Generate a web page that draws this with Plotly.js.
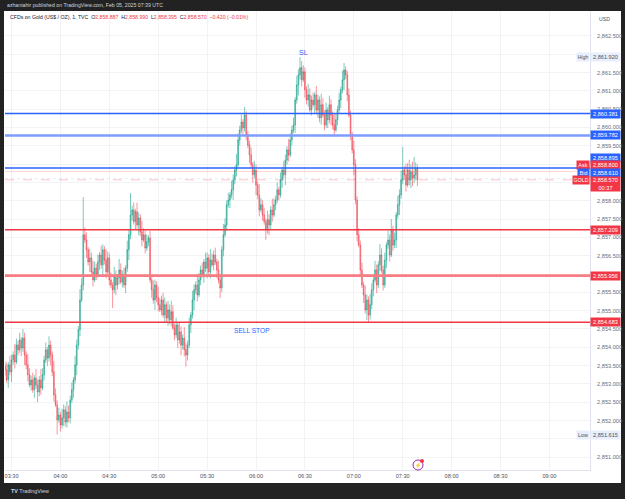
<!DOCTYPE html>
<html><head><meta charset="utf-8">
<script src="https://cdn.plot.ly/plotly-3.0.1.min.js"></script>
<style>html,body{margin:0;padding:0;background:#222222;}#chart{width:625px;height:499px;}</style>
</head><body><div id="chart"></div>
<script>
// ---------- DATA ----------
const sessionDate = '2025-02-05';
const firstBarHour = 3, firstBarMinute = 26;   // 1-minute bars, TVC:GOLD

const openP = [2853.50, 2853.38, 2853.11, 2853.52, 2853.33, 2853.65, 2853.79, 2853.60, 2854.06, 2853.93,
 2854.20, 2853.98, 2854.25, 2853.79, 2853.52, 2853.25, 2852.97, 2853.11, 2852.84, 2853.16,
 2852.97, 2852.78, 2853.11, 2852.89, 2853.25, 2853.65, 2853.93, 2853.71, 2854.06, 2853.79,
 2853.33, 2852.70, 2852.43, 2852.02, 2852.15, 2851.88, 2852.07, 2852.29, 2851.96, 2852.23,
 2852.07, 2852.56, 2852.84, 2853.11, 2853.52, 2854.06, 2854.48, 2855.29, 2855.70, 2857.07,
 2856.93, 2856.66, 2856.33, 2856.44, 2856.06, 2855.84, 2856.16, 2855.98, 2856.33, 2856.52,
 2856.25, 2856.66, 2856.38, 2856.06, 2856.44, 2855.84, 2855.70, 2855.57, 2855.95, 2855.70,
 2855.90, 2856.11, 2855.78, 2855.98, 2855.70, 2856.16, 2856.66, 2857.07, 2857.61, 2857.75,
 2857.43, 2857.70, 2857.34, 2857.53, 2857.15, 2856.93, 2857.07, 2856.71, 2856.88, 2856.98,
 2855.84, 2855.57, 2855.29, 2855.70, 2855.35, 2855.16, 2855.02, 2855.29, 2854.88, 2855.16,
 2854.80, 2855.02, 2854.75, 2854.97, 2854.53, 2854.34, 2854.61, 2854.20, 2854.42, 2854.06,
 2854.25, 2853.93, 2853.79, 2854.06, 2854.61, 2854.88, 2855.29, 2855.57, 2855.70, 2855.43,
 2855.84, 2856.11, 2855.98, 2856.33, 2856.16, 2856.44, 2856.06, 2856.38, 2856.25, 2856.52,
 2856.33, 2856.11, 2855.84, 2855.62, 2856.66, 2857.07, 2857.34, 2857.89, 2858.02, 2858.16,
 2858.30, 2858.57, 2858.84, 2858.98, 2859.66, 2859.93, 2860.15, 2859.99, 2860.34, 2859.80,
 2859.52, 2859.25, 2858.98, 2858.71, 2858.84, 2858.43, 2858.16, 2857.75, 2857.89, 2857.61,
 2857.43, 2857.20, 2857.48, 2857.34, 2857.75, 2857.61, 2857.89, 2858.02, 2858.30, 2858.16,
 2858.57, 2858.84, 2858.71, 2859.11, 2859.39, 2859.25, 2859.66, 2859.93, 2860.07, 2860.75,
 2861.16, 2861.44, 2861.63, 2861.30, 2861.52, 2861.03, 2860.75, 2860.89, 2860.48, 2860.75,
 2860.62, 2860.89, 2860.48, 2860.75, 2860.26, 2860.62, 2860.34, 2860.07, 2860.48, 2860.21,
 2860.62, 2860.34, 2860.07, 2859.93, 2860.21, 2860.48, 2860.75, 2861.03, 2861.30, 2861.57,
 2861.44, 2860.89, 2860.34, 2859.80, 2859.39, 2858.98, 2858.02, 2857.07, 2856.79, 2856.11,
 2855.70, 2855.43, 2855.02, 2855.29, 2854.88, 2855.16, 2855.57, 2855.84, 2856.11, 2855.70,
 2856.25, 2856.52, 2856.11, 2855.70, 2856.38, 2856.79, 2856.93, 2856.52, 2857.20, 2856.79,
 2856.93, 2857.61, 2857.89, 2858.16, 2858.57, 2858.84, 2858.71, 2858.43, 2858.84, 2858.57,
 2858.79, 2858.62, 2858.70, 2858.887];

const highP = [2853.62, 2853.58, 2853.60, 2853.77, 2853.80, 2853.89, 2854.09, 2854.24, 2854.18, 2854.40,
 2854.28, 2854.50, 2854.40, 2853.89, 2853.82, 2853.43, 2853.23, 2853.31, 2853.24, 2853.41,
 2853.12, 2853.21, 2853.41, 2853.43, 2853.77, 2854.13, 2854.01, 2854.30, 2854.18, 2853.89,
 2853.63, 2852.88, 2852.55, 2852.35, 2852.23, 2852.32, 2852.44, 2852.39, 2852.53, 2852.41,
 2852.68, 2853.04, 2853.19, 2853.77, 2854.21, 2854.58, 2855.59, 2855.88, 2858.10, 2857.27,
 2857.13, 2856.74, 2856.69, 2856.59, 2856.36, 2856.34, 2856.28, 2856.53, 2856.60, 2856.77,
 2856.81, 2856.76, 2856.68, 2856.62, 2856.56, 2856.04, 2855.78, 2856.20, 2856.10, 2856.00,
 2856.41, 2856.29, 2856.10, 2856.18, 2856.24, 2856.91, 2857.22, 2858.21, 2857.87, 2857.95,
 2857.78, 2857.95, 2857.68, 2857.63, 2857.45, 2857.25, 2857.19, 2857.08, 2857.06, 2857.18,
 2855.92, 2855.82, 2855.85, 2855.80, 2855.65, 2855.34, 2855.41, 2855.49, 2855.36, 2855.24,
 2855.27, 2855.17, 2855.27, 2855.15, 2854.65, 2854.81, 2854.69, 2854.67, 2854.57, 2854.35,
 2854.55, 2854.11, 2854.18, 2854.81, 2854.96, 2855.54, 2855.72, 2855.80, 2856.00, 2856.02,
 2856.23, 2856.31, 2856.41, 2856.58, 2856.59, 2856.54, 2856.68, 2856.56, 2856.64, 2856.72,
 2856.41, 2856.36, 2855.99, 2856.76, 2857.37, 2857.52, 2858.01, 2858.22, 2858.24, 2858.55,
 2858.72, 2858.94, 2859.28, 2859.84, 2860.05, 2860.35, 2860.23, 2860.56, 2860.44, 2859.90,
 2859.64, 2859.45, 2859.06, 2859.09, 2858.99, 2858.53, 2858.46, 2858.07, 2858.01, 2857.81,
 2857.51, 2857.73, 2857.63, 2857.85, 2858.05, 2858.07, 2858.14, 2858.50, 2858.38, 2858.77,
 2858.92, 2859.09, 2859.26, 2859.49, 2859.69, 2859.84, 2860.05, 2860.27, 2860.83, 2861.41,
 2861.59, 2861.92, 2861.81, 2861.70, 2861.64, 2861.13, 2861.19, 2861.07, 2860.87, 2860.95,
 2860.97, 2861.14, 2860.90, 2860.85, 2860.92, 2860.80, 2860.46, 2860.68, 2860.56, 2860.87,
 2860.77, 2860.44, 2860.37, 2860.39, 2860.60, 2860.95, 2861.11, 2861.55, 2861.76, 2861.67,
 2861.54, 2861.07, 2860.46, 2859.88, 2859.64, 2859.13, 2858.12, 2857.25, 2856.91, 2856.31,
 2855.78, 2855.68, 2855.44, 2855.39, 2855.46, 2855.75, 2855.92, 2856.36, 2856.26, 2856.35,
 2856.82, 2856.70, 2856.23, 2856.58, 2856.87, 2857.18, 2857.08, 2857.50, 2857.32, 2857.13,
 2857.69, 2858.14, 2858.31, 2858.82, 2859.47, 2858.94, 2859.01, 2859.02, 2859.12, 2858.99,
 2859.07, 2859.20, 2859.05, 2858.99];

const lowP = [2853.23, 2853.03, 2852.89, 2853.23, 2853.05, 2853.53, 2853.42, 2853.54, 2853.78, 2853.85,
 2853.76, 2853.88, 2853.51, 2853.40, 2853.07, 2852.91, 2852.82, 2852.76, 2852.62, 2852.87,
 2852.50, 2852.66, 2852.71, 2852.83, 2853.10, 2853.57, 2853.49, 2853.61, 2853.51, 2853.21,
 2852.52, 2852.37, 2851.62, 2851.94, 2851.70, 2851.78, 2851.85, 2851.84, 2851.81, 2851.95,
 2851.92, 2852.48, 2852.62, 2853.01, 2853.24, 2853.94, 2854.30, 2855.23, 2855.55, 2856.85,
 2856.44, 2856.23, 2856.05, 2855.94, 2855.66, 2855.78, 2855.83, 2855.90, 2856.11, 2856.15,
 2855.97, 2856.26, 2855.88, 2856.00, 2855.69, 2855.62, 2855.07, 2855.47, 2855.42, 2855.58,
 2855.72, 2855.72, 2855.63, 2855.62, 2855.48, 2856.06, 2856.38, 2856.95, 2857.46, 2857.35,
 2857.21, 2857.24, 2857.06, 2857.03, 2856.75, 2856.87, 2856.56, 2856.63, 2856.76, 2855.76,
 2855.35, 2855.19, 2855.01, 2855.23, 2854.98, 2854.96, 2854.87, 2854.80, 2854.66, 2854.70,
 2854.58, 2854.63, 2854.57, 2854.47, 2854.19, 2854.26, 2853.98, 2854.10, 2853.78, 2853.94,
 2853.75, 2853.47, 2853.64, 2853.98, 2854.39, 2854.78, 2855.01, 2855.45, 2855.25, 2855.37,
 2855.69, 2855.90, 2855.76, 2856.06, 2855.88, 2855.94, 2855.88, 2856.19, 2856.10, 2856.25,
 2855.89, 2855.74, 2855.34, 2855.50, 2856.48, 2857.01, 2857.19, 2857.81, 2857.80, 2858.06,
 2858.02, 2858.45, 2858.66, 2858.92, 2859.51, 2859.85, 2859.77, 2859.89, 2859.65, 2859.44,
 2859.03, 2858.90, 2858.49, 2858.61, 2858.15, 2858.04, 2857.57, 2857.69, 2857.46, 2857.35,
 2856.93, 2857.10, 2857.06, 2857.22, 2857.43, 2857.55, 2857.74, 2857.94, 2858.01, 2858.08,
 2858.35, 2858.61, 2858.43, 2858.99, 2859.07, 2859.19, 2859.51, 2859.85, 2859.85, 2860.65,
 2860.88, 2861.31, 2861.12, 2861.24, 2860.81, 2860.63, 2860.57, 2860.42, 2860.33, 2860.54,
 2860.40, 2860.36, 2860.26, 2860.14, 2860.08, 2860.28, 2859.92, 2859.99, 2859.99, 2860.11,
 2860.06, 2859.95, 2859.75, 2859.87, 2860.06, 2860.40, 2860.53, 2860.93, 2861.02, 2861.32,
 2860.71, 2860.28, 2859.65, 2859.29, 2858.70, 2857.90, 2856.89, 2856.73, 2855.96, 2855.62,
 2855.21, 2854.92, 2854.74, 2854.69, 2854.76, 2855.04, 2855.39, 2855.78, 2855.48, 2855.62,
 2856.07, 2856.03, 2855.55, 2855.62, 2856.16, 2856.69, 2856.34, 2856.46, 2856.64, 2856.71,
 2856.71, 2857.51, 2857.61, 2858.06, 2858.45, 2858.59, 2858.25, 2858.37, 2858.42, 2858.35,
 2858.40, 2858.48, 2858.55, 2858.395];

const closeP = [2853.38, 2853.11, 2853.52, 2853.33, 2853.65, 2853.79, 2853.60, 2854.06, 2853.93, 2854.20,
 2853.98, 2854.25, 2853.79, 2853.52, 2853.25, 2852.97, 2853.11, 2852.84, 2853.16, 2852.97,
 2852.78, 2853.11, 2852.89, 2853.25, 2853.65, 2853.93, 2853.71, 2854.06, 2853.79, 2853.33,
 2852.70, 2852.43, 2852.02, 2852.15, 2851.88, 2852.07, 2852.29, 2851.96, 2852.23, 2852.07,
 2852.56, 2852.84, 2853.11, 2853.52, 2854.06, 2854.48, 2855.29, 2855.70, 2857.07, 2856.93,
 2856.66, 2856.33, 2856.44, 2856.06, 2855.84, 2856.16, 2855.98, 2856.33, 2856.52, 2856.25,
 2856.66, 2856.38, 2856.06, 2856.44, 2855.84, 2855.70, 2855.57, 2855.95, 2855.70, 2855.90,
 2856.11, 2855.78, 2855.98, 2855.70, 2856.16, 2856.66, 2857.07, 2857.61, 2857.75, 2857.43,
 2857.70, 2857.34, 2857.53, 2857.15, 2856.93, 2857.07, 2856.71, 2856.88, 2856.98, 2855.84,
 2855.57, 2855.29, 2855.70, 2855.35, 2855.16, 2855.02, 2855.29, 2854.88, 2855.16, 2854.80,
 2855.02, 2854.75, 2854.97, 2854.53, 2854.34, 2854.61, 2854.20, 2854.42, 2854.06, 2854.25,
 2853.93, 2853.79, 2854.06, 2854.61, 2854.88, 2855.29, 2855.57, 2855.70, 2855.43, 2855.84,
 2856.11, 2855.98, 2856.33, 2856.16, 2856.44, 2856.06, 2856.38, 2856.25, 2856.52, 2856.33,
 2856.11, 2855.84, 2855.62, 2856.66, 2857.07, 2857.34, 2857.89, 2858.02, 2858.16, 2858.30,
 2858.57, 2858.84, 2858.98, 2859.66, 2859.93, 2860.15, 2859.99, 2860.34, 2859.80, 2859.52,
 2859.25, 2858.98, 2858.71, 2858.84, 2858.43, 2858.16, 2857.75, 2857.89, 2857.61, 2857.43,
 2857.20, 2857.48, 2857.34, 2857.75, 2857.61, 2857.89, 2858.02, 2858.30, 2858.16, 2858.57,
 2858.84, 2858.71, 2859.11, 2859.39, 2859.25, 2859.66, 2859.93, 2860.07, 2860.75, 2861.16,
 2861.44, 2861.63, 2861.30, 2861.52, 2861.03, 2860.75, 2860.89, 2860.48, 2860.75, 2860.62,
 2860.89, 2860.48, 2860.75, 2860.26, 2860.62, 2860.34, 2860.07, 2860.48, 2860.21, 2860.62,
 2860.34, 2860.07, 2859.93, 2860.21, 2860.48, 2860.75, 2861.03, 2861.30, 2861.57, 2861.44,
 2860.89, 2860.34, 2859.80, 2859.39, 2858.98, 2858.02, 2857.07, 2856.79, 2856.11, 2855.70,
 2855.43, 2855.02, 2855.29, 2854.88, 2855.16, 2855.57, 2855.84, 2856.11, 2855.70, 2856.25,
 2856.52, 2856.11, 2855.70, 2856.38, 2856.79, 2856.93, 2856.52, 2857.20, 2856.79, 2856.93,
 2857.61, 2857.89, 2858.16, 2858.57, 2858.84, 2858.71, 2858.43, 2858.84, 2858.57, 2858.79,
 2858.62, 2858.70, 2858.89, 2858.57];

const timeTicks = ['03:30','04:00','04:30','05:00','05:30','06:00','06:30','07:00','07:30','08:00','08:30','09:00'];
const priceTicks = [2851.0, 2851.5, 2852.0, 2852.5, 2853.0, 2853.5, 2854.0, 2854.5, 2855.0, 2855.5, 2856.0,
 2856.5, 2857.0, 2857.5, 2858.0, 2858.5, 2859.0, 2859.5, 2860.0, 2860.5, 2861.0, 2861.5, 2862.0, 2862.5];
// tick labels hidden behind the price tags in the reference
const hiddenTicks = [2851.5, 2856.0, 2858.5, 2859.0, 2862.0];

// horizontal levels drawn on the chart
const levelPrices = [2860.381, 2859.782, 2858.895, 2857.209, 2855.956, 2854.683];
const levelLabels = ['2,860.381', '2,859.782', '2,858.895', '2,857.209', '2,855.956', '2,854.683'];
const askPrice = 2858.800, bidPrice = 2858.610, lastPrice = 2858.570;
const highPrice = 2861.920, lowPrice = 2851.615;
const countdown = '00:37';

// ---------- STYLES / LAYOUT ----------
const BLUE = '#2962ff', RED = '#f23645';
const levelStyles = [
  {color: BLUE, width: 1.5, labelBg: BLUE, shift: 0},
  {color: '#7d9cff', width: 2.6, labelBg: BLUE, shift: 0},
  {color: BLUE, width: 1.5, labelBg: BLUE, shift: 10},
  {color: RED, width: 1.5, labelBg: RED, shift: 0},
  {color: '#f77c84', width: 2.6, labelBg: RED, shift: 0},
  {color: RED, width: 1.5, labelBg: RED, shift: 0}
];

function pad(n){return (n<10?'0':'')+n;}
const times = closeP.map((_, i) => {
  const m = firstBarHour*60 + firstBarMinute + i;
  return sessionDate + ' ' + pad(Math.floor(m/60)) + ':' + pad(m%60);
});
const fmtPrice = v => v.toLocaleString('en-US', {minimumFractionDigits: 3, maximumFractionDigits: 3});
const priceTickText = priceTicks.map(v => hiddenTicks.includes(v) ? '' : fmtPrice(v));

const FONT = 'Liberation Sans, Arial, sans-serif';
const W = 625, H = 499;
const M = {l: 5, r: 35, t: 11, b: 29};
const PW = W - M.l - M.r, PH = H - M.t - M.b;
const px = x => (x - M.l) / PW;          // pixel -> paper x
const py = y => (H - M.b - y) / PH;      // pixel -> paper y

const trace = {
  type: 'candlestick', x: times, open: openP, high: highP, low: lowP, close: closeP,
  increasing: {line: {color: 'rgba(8,153,129,0.52)', width: 1}, fillcolor: 'rgba(8,153,129,0.52)'},
  decreasing: {line: {color: 'rgba(242,54,69,0.52)', width: 1}, fillcolor: 'rgba(242,54,69,0.52)'},
  whiskerwidth: 0, hoverinfo: 'skip', showlegend: false
};

const shapes = [
  {type: 'rect', xref: 'paper', yref: 'paper', x0: px(4), x1: px(621), y0: py(483), y1: py(11),
   fillcolor: '#ffffff', line: {width: 0}, layer: 'below'},
  {type: 'line', xref: 'paper', yref: 'y', x0: 0, x1: 1, y0: askPrice, y1: askPrice,
   line: {color: 'rgba(242,54,69,0.22)', width: 1}},
  {type: 'line', xref: 'paper', yref: 'y', x0: 0, x1: 1, y0: lastPrice, y1: lastPrice,
   line: {color: 'rgba(242,54,69,0.3)', width: 1, dash: 'dash'}},
  {type: 'line', xref: 'paper', yref: 'y', x0: 0, x1: 1, y0: bidPrice, y1: bidPrice,
   line: {color: 'rgba(41,98,255,0.12)', width: 1, dash: 'dot'}},
  {type: 'circle', xref: 'paper', yref: 'paper', x0: px(413), x1: px(423), y0: py(470), y1: py(460),
   line: {color: '#9c27b0', width: 1}, fillcolor: '#ffffff'},
  {type: 'circle', xref: 'paper', yref: 'paper', x0: px(420), x1: px(424), y0: py(463), y1: py(459),
   line: {width: 0}, fillcolor: RED}
];
levelPrices.forEach((p, i) => shapes.push({
  type: 'line', xref: 'paper', yref: 'y', x0: 0, x1: 1, y0: p, y1: p,
  line: {color: levelStyles[i].color, width: levelStyles[i].width}
}));

const boxX = px(605);
const ann = [];
function priceBox(y, text, bg, fg, shift, opts) {
  ann.push(Object.assign({xref: 'paper', yref: 'y', x: boxX, y: y, xanchor: 'center', yanchor: 'middle',
    text: text, showarrow: false, bgcolor: bg, borderpad: 0.5, width: 28, height: 7, yshift: shift,
    font: {family: FONT, size: 5.6, color: fg}}, opts || {}));
}
function tagBox(y, text, bg, fg, shift, w) {
  ann.push({xref: 'paper', yref: 'y', x: px(589.5), y: y, xanchor: 'right', yanchor: 'middle',
    text: text, showarrow: false, bgcolor: bg, borderpad: 0.5, width: w, height: 7, yshift: shift,
    font: {family: FONT, size: 5.4, color: fg}});
}
levelPrices.forEach((p, i) => priceBox(p, levelLabels[i], levelStyles[i].labelBg, '#ffffff', levelStyles[i].shift));
priceBox(highPrice, '2,861.920', '#e8eefb', '#50535e', 0);
tagBox(highPrice, 'High', '#e8eefb', '#50535e', 0, 11);
priceBox(lowPrice, '2,851.615', '#e8eefb', '#50535e', 0);
tagBox(lowPrice, 'Low', '#e8eefb', '#50535e', 0, 11);
priceBox(askPrice, '2,858.800', RED, '#ffffff', 6.5);
tagBox(askPrice, 'Ask', RED, '#ffffff', 6.5, 11);
priceBox(bidPrice, '2,858.610', BLUE, '#ffffff', 5.5);
tagBox(bidPrice, 'Bid', BLUE, '#ffffff', 5.5, 10);
priceBox(lastPrice, '2,858.570<br>' + countdown, RED, '#ffffff', 4, {yanchor: 'top', height: 13});
tagBox(lastPrice, 'GOLD', RED, '#ffffff', 0, 15);

ann.push({xref: 'paper', yref: 'paper', x: px(5), y: py(5.5), xanchor: 'left', yanchor: 'middle', showarrow: false,
  text: 'azhantahir published on TradingView.com, Feb 05, 2025 07:39 UTC',
  font: {family: FONT, size: 5.2, color: '#d1d4dc'}});
const r = s => '<span style="color:#f23645">' + s + '</span>';
ann.push({xref: 'paper', yref: 'paper', x: px(8), y: py(17), xanchor: 'left', yanchor: 'middle', showarrow: false,
  text: 'CFDs on Gold (US$ / OZ), 1, TVC  O' + r('2,858.887') + '  H' + r('2,858.990') + '  L' + r('2,858.395') +
        '  C' + r('2,858.570') + '  ' + r('\u22120.420 (\u22120.01%)'),
  font: {family: FONT, size: 5.2, color: '#131722'}});
ann.push({xref: 'paper', yref: 'paper', x: px(597), y: py(18.5), xanchor: 'left', yanchor: 'middle', showarrow: false,
  text: 'USD', font: {family: FONT, size: 5.2, color: '#50535e'}});
ann.push({xref: 'paper', yref: 'paper', x: px(9), y: py(491), xanchor: 'left', yanchor: 'middle', showarrow: false,
  text: '<b>TV</b> TradingView', font: {family: FONT, size: 5.4, color: '#d1d4dc'}});
ann.push({xref: 'paper', yref: 'paper', x: px(418), y: py(465), xanchor: 'center', yanchor: 'middle', showarrow: false,
  text: '\u26A1', font: {family: FONT, size: 5, color: '#9c27b0'}});
ann.push({xref: 'x', yref: 'y', x: sessionDate + ' 06:28:50', y: 2862.06, showarrow: false, text: 'SL',
  font: {family: FONT, size: 7, color: '#2962ff'}});
ann.push({xref: 'x', yref: 'y', x: sessionDate + ' 05:57:30', y: 2854.47, showarrow: false, text: 'SELL STOP',
  font: {family: FONT, size: 6.6, color: '#2962ff'}});

const layout = {
  width: W, height: H, margin: M,
  paper_bgcolor: '#222222', plot_bgcolor: '#ffffff',
  showlegend: false, dragmode: false,
  xaxis: {
    type: 'date', range: [sessionDate + ' 03:26:00', sessionDate + ' 09:24:54'],
    rangeslider: {visible: false},
    tickvals: timeTicks.map(t => sessionDate + ' ' + t), ticktext: timeTicks,
    showgrid: true, gridcolor: '#f2f3f6', gridwidth: 1,
    showline: true, linecolor: '#e0e3eb', linewidth: 1,
    ticks: '', tickfont: {family: FONT, size: 5.6, color: '#50535e'}, zeroline: false
  },
  yaxis: {
    side: 'right', range: [2850.65, 2863.18], tickvals: priceTicks, ticktext: priceTickText,
    showgrid: true, gridcolor: '#f2f3f6', gridwidth: 1,
    showline: true, linecolor: '#e0e3eb', linewidth: 1,
    ticks: '', ticklabelstandoff: 5, tickfont: {family: FONT, size: 5.6, color: '#6a6d78'}, zeroline: false
  },
  shapes: shapes, annotations: ann
};

Plotly.newPlot('chart', [trace], layout, {staticPlot: true, displayModeBar: false});
</script></body></html>
